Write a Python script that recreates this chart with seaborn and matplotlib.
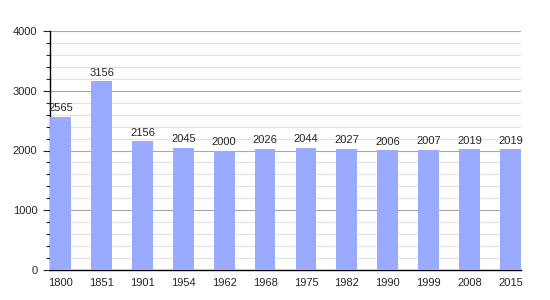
import matplotlib
matplotlib.use("Agg")
import matplotlib.pyplot as plt
import seaborn as sns
import pandas as pd
from matplotlib.ticker import MultipleLocator

years = ["1800", "1851", "1901", "1954", "1962", "1968", "1975", "1982", "1990", "1999", "2008", "2015"]
population = [2565, 3156, 2156, 2045, 2000, 2026, 2044, 2027, 2006, 2007, 2019, 2019]

df = pd.DataFrame({"year": years, "pop": population})

sns.set_style("white")
plt.rcParams['font.family'] = ['Liberation Sans', 'DejaVu Sans']

fig = plt.figure(figsize=(5.5, 3.0), dpi=100)
ax = fig.add_axes([50/550, 30/300, 471/550, 239/300])

sns.barplot(data=df, x="year", y="pop", color="#99aaff", saturation=1, width=0.51,
            linewidth=0, edgecolor="none", ax=ax, zorder=3)

ax.set_ylim(0, 4000)
ax.set_xlim(-0.26, 11.26)
ax.yaxis.set_major_locator(MultipleLocator(1000))
ax.yaxis.set_minor_locator(MultipleLocator(200))
ax.grid(which="major", axis="y", color="#a8a8a8", linewidth=0.8, zorder=1)
ax.grid(which="minor", axis="y", color="#e2e2e2", linewidth=0.8, zorder=0)
ax.set_axisbelow(True)

for s in ["top", "right"]:
    ax.spines[s].set_visible(False)
ax.spines["left"].set_color("black")
ax.spines["bottom"].set_color("black")
ax.spines["left"].set_linewidth(1)
ax.spines["bottom"].set_linewidth(1)

ax.tick_params(axis="y", which="major", left=True, length=5, width=0.8, labelsize=8, pad=4)
ax.tick_params(axis="y", which="minor", left=True, length=3, width=0.8)
ax.tick_params(axis="x", which="both", bottom=False, labelsize=8, pad=2)

ax.set_xlabel("")
ax.set_ylabel("")

for i, v in enumerate(population):
    ax.text(i, v + 60, str(v), ha="center", va="bottom", fontsize=8)

fig.savefig("out.png", dpi=100)
